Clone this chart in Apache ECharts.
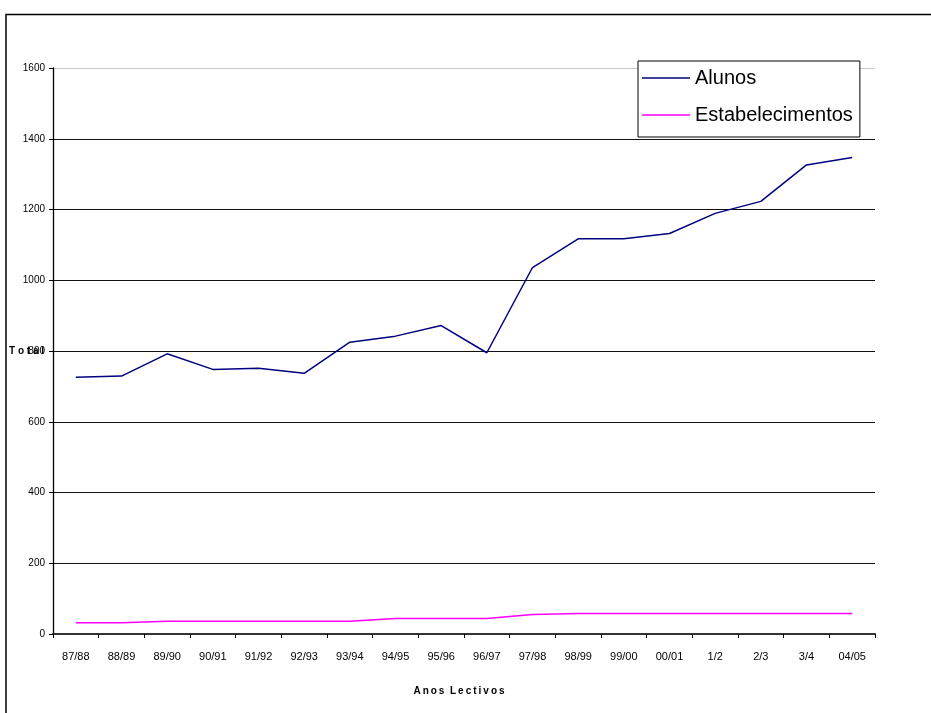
<!DOCTYPE html>
<html>
<head>
<meta charset="utf-8">
<script src="https://cdn.jsdelivr.net/npm/echarts@6/dist/echarts.min.js"></script>
<style>
  html, body { margin: 0; padding: 0; background: #fff; }
  #chart { width: 931px; height: 713px; }
</style>
</head>
<body>
<div id="chart"></div>
<script>
const categories = ["87/88","88/89","89/90","90/91","91/92","92/93","93/94","94/95","95/96","96/97","97/98","98/99","99/00","00/01","1/2","2/3","3/4","04/05"];
const alunos = [726, 729, 792, 748, 751, 737, 825, 842, 872, 795, 1036, 1117, 1117, 1132, 1189, 1223, 1326, 1347];
const estabelecimentos = [32, 32, 36, 36, 36, 36, 36, 44, 44, 44, 55, 58, 58, 58, 58, 58, 58, 58];
const seriesNames = ["Alunos", "Estabelecimentos"];
const yTicks = { min: 0, max: 1600, interval: 200 };
const yAxisTitle = "T o t a l";
const xAxisTitle = "A\u2009n\u2009o\u2009s  L\u2009e\u2009c\u2009t\u2009i\u2009v\u2009o\u2009s";

const chart = echarts.init(document.getElementById('chart'), null, { renderer: 'canvas' });
const FONT = "'Liberation Sans', Arial, sans-serif";

chart.setOption({
  animation: false,
  backgroundColor: '#ffffff',
  graphic: [{
    type: 'rect',
    shape: { x: 6, y: 14.5, width: 1000, height: 800 },
    style: { fill: 'none', stroke: '#000', lineWidth: 1.5 },
    silent: true,
    z: 0
  }],
  grid: { left: 53, right: 56, top: 68, bottom: 79, containLabel: false, outerBoundsMode: 'none' },
  legend: {
    data: seriesNames,
    orient: 'vertical',
    left: 638,
    top: 61,
    padding: [7, 7, 12, 4],
    itemGap: 17,
    icon: 'rect',
    itemWidth: 48,
    itemHeight: 1.5,
    backgroundColor: '#ffffff',
    borderColor: '#000',
    borderWidth: 1,
    textStyle: { fontFamily: FONT, fontSize: 20, color: '#000', lineHeight: 20 },
    z: 10
  },
  xAxis: {
    type: 'category',
    data: categories,
    boundaryGap: true,
    name: xAxisTitle,
    nameLocation: 'middle',
    nameGap: 52,
    nameTextStyle: { fontFamily: FONT, fontSize: 10, fontWeight: 'bold', color: '#000', padding: [0, 10, 0, 0] },
    axisLine: { lineStyle: { color: '#333', width: 2 } },
    axisTick: { show: true, alignWithLabel: false, length: 4, inside: false, lineStyle: { color: '#000' } },
    axisLabel: { fontFamily: FONT, fontSize: 11, color: '#000', margin: 17, interval: 0 },
    splitLine: { show: false }
  },
  yAxis: {
    type: 'value',
    min: yTicks.min,
    max: yTicks.max,
    interval: yTicks.interval,
    name: yAxisTitle,
    nameLocation: 'middle',
    nameRotate: 0,
    nameGap: 9,
    nameMoveOverlap: false,
    nameTextStyle: { fontFamily: FONT, fontSize: 10, fontWeight: 'bold', color: '#000', align: 'right', verticalAlign: 'middle' },
    axisLine: { show: true, lineStyle: { color: '#000', width: 1.3 } },
    axisTick: { show: true, length: 4, lineStyle: { color: '#000' } },
    axisLabel: { fontFamily: FONT, fontSize: 10, color: '#000', margin: 8, formatter: function (v) { return String(v); } },
    splitLine: {
      show: true,
      lineStyle: {
        color: ['#000', '#111', '#111', '#111', '#111', '#111', '#111', '#111', '#c8c8c8'],
        width: 1.2
      }
    }
  },
  series: [
    {
      name: seriesNames[0],
      type: 'line',
      data: alunos,
      symbol: 'none',
      lineStyle: { color: '#000080', width: 1.5 },
      itemStyle: { color: '#000080' },
      z: 3
    },
    {
      name: seriesNames[1],
      type: 'line',
      data: estabelecimentos,
      symbol: 'none',
      lineStyle: { color: '#ff00ff', width: 1.5 },
      itemStyle: { color: '#ff00ff' },
      z: 3
    }
  ]
});
</script>
</body>
</html>
